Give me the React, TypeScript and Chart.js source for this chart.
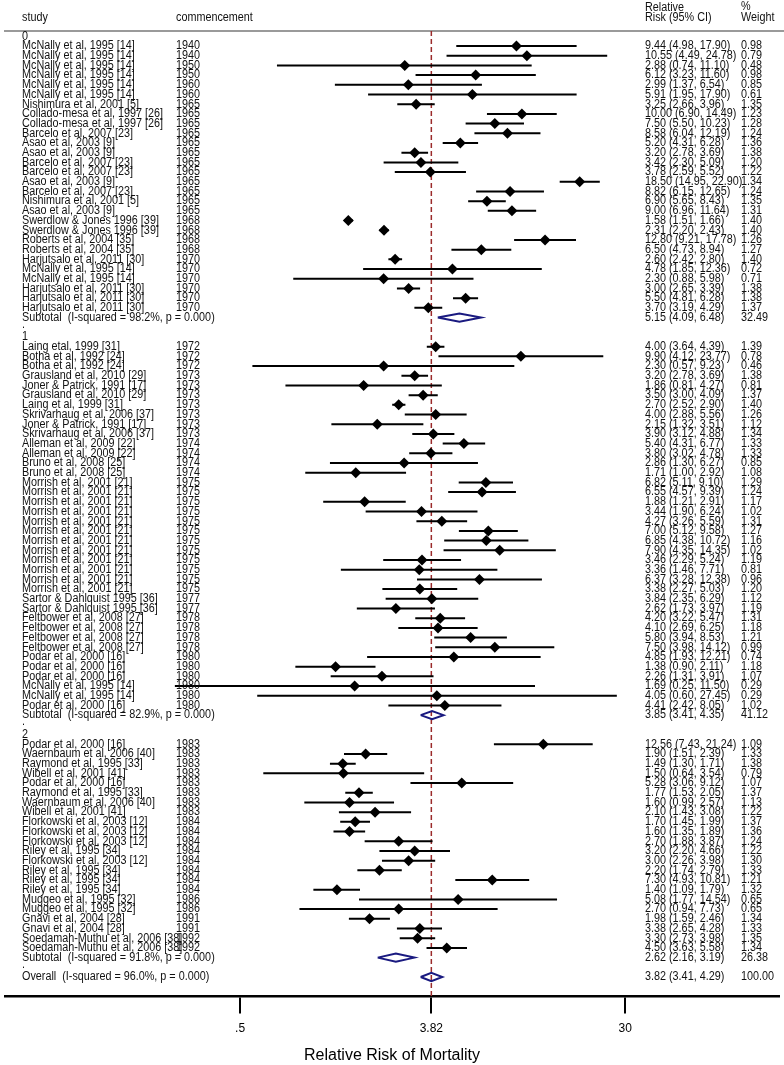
import React, { useEffect, useRef } from 'react';
import { Chart, registerables } from 'chart.js';
Chart.register(...registerables);

const FONT = '"Liberation Sans", Arial, sans-serif';

const groupLabels = ['0', '1', '2'];
const groupSizes = [28, 38, 22];

const studies = [
  'McNally et al, 1995 [14]', 'McNally et al, 1995 [14]', 'McNally et al, 1995 [14]', 'McNally et al, 1995 [14]',
  'McNally et al, 1995 [14]', 'McNally et al, 1995 [14]', 'Nishimura et al, 2001 [5]', 'Collado-mesa et al, 1997 [26]',
  'Collado-mesa et al, 1997 [26]', 'Barcelo et al, 2007 [23]', 'Asao et al, 2003 [9]', 'Asao et al, 2003 [9]',
  'Barcelo et al, 2007 [23]', 'Barcelo et al, 2007 [23]', 'Asao et al, 2003 [9]', 'Barcelo et al, 2007 [23]',
  'Nishimura et al, 2001 [5]', 'Asao et al, 2003 [9]', 'Swerdlow & Jones 1996 [39]', 'Swerdlow & Jones 1996 [39]',
  'Roberts et al, 2004 [35]', 'Roberts et al, 2004 [35]', 'Harjutsalo et al, 2011 [30]', 'McNally et al, 1995 [14]',
  'McNally et al, 1995 [14]', 'Harjutsalo et al, 2011 [30]', 'Harjutsalo et al, 2011 [30]', 'Harjutsalo et al, 2011 [30]',
  'Laing etal, 1999 [31]', 'Botha et al, 1992 [24]', 'Botha et al, 1992 [24]', 'Grausland et al, 2010 [29]',
  'Joner & Patrick, 1991 [17]', 'Grausland et al, 2010 [29]', 'Laing et al, 1999 [31]', 'Skrivarhaug et al, 2006 [37]',
  'Joner & Patrick, 1991 [17]', 'Skrivarhaug et al, 2006 [37]', 'Alleman et al, 2009 [22]', 'Alleman et al, 2009 [22]',
  'Bruno et al, 2008 [25]', 'Bruno et al, 2008 [25]', 'Morrish et al, 2001 [21]', 'Morrish et al, 2001 [21]',
  'Morrish et al, 2001 [21]', 'Morrish et al, 2001 [21]', 'Morrish et al, 2001 [21]', 'Morrish et al, 2001 [21]',
  'Morrish et al, 2001 [21]', 'Morrish et al, 2001 [21]', 'Morrish et al, 2001 [21]', 'Morrish et al, 2001 [21]',
  'Morrish et al, 2001 [21]', 'Morrish et al, 2001 [21]', 'Sartor & Dahlquist 1995 [36]', 'Sartor & Dahlquist 1995 [36]',
  'Feltbower et al, 2008 [27]', 'Feltbower et al, 2008 [27]', 'Feltbower et al, 2008 [27]', 'Feltbower et al, 2008 [27]',
  'Podar et al, 2000 [16]', 'Podar et al, 2000 [16]', 'Podar et al, 2000 [16]', 'McNally et al, 1995 [14]',
  'McNally et al, 1995 [14]', 'Podar et al, 2000 [16]',
  'Podar et al, 2000 [16]', 'Waernbaum et al, 2006 [40]', 'Raymond et al, 1995 [33]', 'Wibell et al, 2001 [41]',
  'Podar et al, 2000 [16]', 'Raymond et al, 1995 [33]', 'Waernbaum et al, 2006 [40]', 'Wibell et al, 2001 [41]',
  'Florkowski et al, 2003 [12]', 'Florkowski et al, 2003 [12]', 'Florkowski et al, 2003 [12]', 'Riley et al, 1995 [34]',
  'Florkowski et al, 2003 [12]', 'Riley et al, 1995 [34]', 'Riley et al, 1995 [34]', 'Riley et al, 1995 [34]',
  'Muggeo et al, 1995 [32]', 'Muggeo et al, 1995 [32]', 'Gnavi et al, 2004 [28]', 'Gnavi et al, 2004 [28]',
  'Soedamah-Muthu et al, 2006 [38]', 'Soedamah-Muthu et al, 2006 [38]',
];

const commencement = [
  1940, 1940, 1950, 1950, 1960, 1960, 1965, 1965, 1965, 1965, 1965, 1965, 1965, 1965, 1965, 1965, 1965, 1965,
  1968, 1968, 1968, 1968, 1970, 1970, 1970, 1970, 1970, 1970,
  1972, 1972, 1972, 1973, 1973, 1973, 1973, 1973, 1973, 1973, 1974, 1974, 1974, 1974,
  1975, 1975, 1975, 1975, 1975, 1975, 1975, 1975, 1975, 1975, 1975, 1975,
  1977, 1977, 1978, 1978, 1978, 1978, 1980, 1980, 1980, 1980, 1980, 1980,
  1983, 1983, 1983, 1983, 1983, 1983, 1983, 1983, 1984, 1984, 1984, 1984, 1984, 1984, 1984, 1984,
  1986, 1986, 1991, 1991, 1992, 1992,
];

const rr = [
  9.44, 10.55, 2.88, 6.12, 2.99, 5.91, 3.25, 10.0, 7.5, 8.58, 5.2, 3.2, 3.42, 3.78, 18.5, 8.82, 6.9, 9.0, 1.58, 2.31,
  12.8, 6.5, 2.6, 4.78, 2.3, 3.0, 5.5, 3.7,
  4.0, 9.9, 2.3, 3.2, 1.86, 3.5, 2.7, 4.0, 2.15, 3.9, 5.4, 3.8, 2.86, 1.71, 6.82, 6.55, 1.88, 3.44, 4.27, 7.0, 6.85,
  7.9, 3.46, 3.36, 6.37, 3.38, 3.84, 2.62, 4.2, 4.1, 5.8, 7.5, 4.85, 1.38, 2.26, 1.69, 4.05, 4.41,
  12.56, 1.9, 1.49, 1.5, 5.28, 1.77, 1.6, 2.1, 1.7, 1.6, 2.7, 3.2, 3.0, 2.2, 7.3, 1.4, 5.08, 2.7, 1.98, 3.38, 3.3, 4.5,
];

const lower = [
  4.98, 4.49, 0.74, 3.23, 1.37, 1.95, 2.66, 6.9, 5.5, 6.04, 4.31, 2.78, 2.3, 2.59, 14.95, 6.15, 5.65, 6.96, 1.51, 2.2,
  9.21, 4.73, 2.42, 1.85, 0.88, 2.65, 4.81, 3.19,
  3.64, 4.12, 0.57, 2.78, 0.81, 3.0, 2.52, 2.88, 1.32, 3.12, 4.31, 3.02, 1.3, 1.0, 5.11, 4.57, 1.21, 1.9, 3.26, 5.12,
  4.38, 4.35, 2.29, 1.46, 3.28, 2.27, 2.35, 1.73, 3.22, 2.69, 3.94, 3.98, 1.93, 0.9, 1.31, 0.25, 0.6, 2.42,
  7.43, 1.51, 1.3, 0.64, 3.06, 1.53, 0.99, 1.43, 1.45, 1.35, 1.88, 2.2, 2.26, 1.74, 4.93, 1.09, 1.77, 0.94, 1.59, 2.65,
  2.73, 3.63,
];

const upper = [
  17.9, 24.78, 11.1, 11.6, 6.54, 17.9, 3.96, 14.49, 10.23, 12.19, 6.28, 3.69, 5.09, 5.52, 22.9, 12.65, 8.43, 11.64,
  1.66, 2.43, 17.78, 8.94, 2.8, 12.36, 5.98, 3.39, 6.28, 4.29,
  4.39, 23.77, 9.23, 3.69, 4.27, 4.09, 2.9, 5.56, 3.51, 4.88, 6.77, 4.78, 6.27, 2.92, 9.1, 9.39, 2.91, 6.24, 5.59,
  9.58, 10.72, 14.35, 5.24, 7.71, 12.38, 5.03, 6.29, 3.97, 5.47, 6.25, 8.53, 14.12, 12.21, 2.11, 3.91, 11.5, 27.45, 8.05,
  21.24, 2.39, 1.71, 3.54, 9.12, 2.05, 2.57, 3.08, 1.99, 1.89, 3.87, 4.66, 3.98, 2.79, 10.81, 1.79, 14.54, 7.73, 2.46,
  4.28, 3.98, 5.58,
];

const weight = [
  0.98, 0.79, 0.48, 0.98, 0.85, 0.61, 1.35, 1.23, 1.28, 1.24, 1.36, 1.38, 1.2, 1.22, 1.34, 1.24, 1.35, 1.31, 1.4, 1.4,
  1.26, 1.27, 1.4, 0.72, 0.71, 1.38, 1.38, 1.37,
  1.39, 0.78, 0.46, 1.38, 0.81, 1.37, 1.4, 1.26, 1.12, 1.34, 1.33, 1.33, 0.85, 1.08, 1.29, 1.24, 1.17, 1.02, 1.31,
  1.27, 1.16, 1.02, 1.19, 0.81, 0.96, 1.2, 1.12, 1.19, 1.31, 1.18, 1.21, 0.99, 0.74, 1.18, 1.07, 0.29, 0.29, 1.02,
  1.09, 1.33, 1.38, 0.79, 1.07, 1.37, 1.13, 1.22, 1.37, 1.36, 1.24, 1.22, 1.3, 1.33, 1.21, 1.32, 0.65, 0.65, 1.34,
  1.33, 1.35, 1.34,
];

const subtotalRR = [5.15, 3.85, 2.62];
const subtotalLower = [4.09, 3.41, 2.16];
const subtotalUpper = [6.48, 4.35, 3.19];
const subtotalWeight = [32.49, 41.12, 26.38];
const subtotalI2 = ['98.2%', '82.9%', '91.8%'];
const subtotalP = ['0.000', '0.000', '0.000'];

const overallRR = 3.82;
const overallLower = 3.41;
const overallUpper = 4.29;
const overallWeight = 100.0;
const overallI2 = '96.0%';
const overallP = '0.000';

const tickValues = [0.5, 3.82, 30];
const tickLabels = ['.5', '3.82', '30'];

type Row = { kind: 'group' | 'study' | 'subtotal' | 'dot' | 'overall'; r: number; i?: number; g?: number };

function buildRows(): Row[] {
  const rows: Row[] = [];
  let r = 0;
  let k = 0;
  groupSizes.forEach((n, g) => {
    rows.push({ kind: 'group', r: r++, g });
    for (let j = 0; j < n; j++) rows.push({ kind: 'study', r: r++, i: k++ });
    rows.push({ kind: 'subtotal', r: r++, g });
    rows.push({ kind: 'dot', r: r++ });
  });
  rows.push({ kind: 'overall', r: r++ });
  return rows;
}

const fmt = (v: number) => v.toFixed(2);
const ciText = (e: number, l: number, u: number) => `${fmt(e)} (${fmt(l)}, ${fmt(u)})`;

function drawText(ctx: CanvasRenderingContext2D, s: string, x: number, y: number, sx = 0.9) {
  ctx.save();
  ctx.translate(x, y);
  ctx.scale(sx, 1);
  ctx.fillText(s, 0, 0);
  ctx.restore();
}

export default function App() {
  const ref = useRef<HTMLCanvasElement>(null);

  useEffect(() => {
    const canvas = ref.current;
    if (!canvas) return;
    const rows = buildRows();
    const H = 0.42;

    const points: any[] = [];
    const ciLines: any[] = [];
    const diamonds: any[] = [];
    rows.forEach((row) => {
      if (row.kind === 'study') {
        const i = row.i as number;
        points.push({ x: rr[i], y: row.r });
        ciLines.push({ x: lower[i], y: row.r }, { x: upper[i], y: row.r }, { x: null, y: null });
      } else if (row.kind === 'subtotal' || row.kind === 'overall') {
        const g = row.g as number;
        const e = row.kind === 'overall' ? overallRR : subtotalRR[g];
        const l = row.kind === 'overall' ? overallLower : subtotalLower[g];
        const u = row.kind === 'overall' ? overallUpper : subtotalUpper[g];
        diamonds.push(
          { x: l, y: row.r }, { x: e, y: row.r - H }, { x: u, y: row.r }, { x: e, y: row.r + H }, { x: l, y: row.r },
          { x: null, y: null }
        );
      }
    });

    const yMin = -0.547;
    const yMax = 99.0;

    const textPlugin = {
      id: 'forestText',
      beforeDatasetsDraw(chart: any) {
        const ctx = chart.ctx as CanvasRenderingContext2D;
        const top = chart.chartArea.top;
        ctx.save();
        ctx.strokeStyle = '#9a9a9a';
        ctx.lineWidth = 2;
        ctx.beginPath();
        ctx.moveTo(4, top);
        ctx.lineTo(784, top);
        ctx.stroke();
        ctx.restore();
      },
      afterDraw(chart: any) {
        const ctx = chart.ctx as CanvasRenderingContext2D;
        const ys = chart.scales.y;
        ctx.save();
        ctx.fillStyle = '#111';
        ctx.textBaseline = 'middle';
        ctx.textAlign = 'left';
        ctx.font = `12px ${FONT}`;
        drawText(ctx, 'study', 22, 18);
        drawText(ctx, 'commencement', 176, 18);
        drawText(ctx, 'Relative', 645, 8);
        drawText(ctx, 'Risk (95% CI)', 645, 18);
        drawText(ctx, '%', 741, 7);
        drawText(ctx, 'Weight', 741, 18);
        rows.forEach((row) => {
          const y = ys.getPixelForValue(row.r);
          if (row.kind === 'group') {
            drawText(ctx, groupLabels[row.g as number], 22, y);
          } else if (row.kind === 'dot') {
            drawText(ctx, '.', 22, y - 3);
          } else if (row.kind === 'study') {
            const i = row.i as number;
            drawText(ctx, studies[i], 22, y);
            drawText(ctx, String(commencement[i]), 176, y);
            drawText(ctx, ciText(rr[i], lower[i], upper[i]), 645, y);
            drawText(ctx, fmt(weight[i]), 741, y);
          } else if (row.kind === 'subtotal') {
            const g = row.g as number;
            drawText(ctx, `Subtotal  (I-squared = ${subtotalI2[g]}, p = ${subtotalP[g]})`, 22, y);
            drawText(ctx, ciText(subtotalRR[g], subtotalLower[g], subtotalUpper[g]), 645, y);
            drawText(ctx, fmt(subtotalWeight[g]), 741, y);
          } else if (row.kind === 'overall') {
            drawText(ctx, `Overall  (I-squared = ${overallI2}, p = ${overallP})`, 22, y);
            drawText(ctx, ciText(overallRR, overallLower, overallUpper), 645, y);
            drawText(ctx, fmt(overallWeight), 741, y);
          }
        });
        ctx.restore();
      },
    };

    const chart = new Chart(canvas, {
      type: 'scatter',
      data: {
        datasets: [
          {
            label: 'estimates',
            data: points,
            pointStyle: 'rectRot',
            pointRadius: 5.5,
            backgroundColor: '#000',
            borderColor: '#000',
            borderWidth: 0,
            showLine: false,
            order: 0,
          } as any,
          {
            label: 'pooled',
            data: diamonds,
            showLine: true,
            borderColor: '#1a1a80',
            borderWidth: 2,
            pointRadius: 0,
            fill: false,
            tension: 0,
            borderJoinStyle: 'miter',
            order: 1,
          },
          {
            label: 'ci',
            data: ciLines,
            showLine: true,
            borderColor: '#000',
            borderWidth: 2,
            pointRadius: 0,
            fill: false,
            tension: 0,
            order: 2,
          },
          {
            label: 'overall line',
            data: [
              { x: overallRR, y: yMin },
              { x: overallRR, y: yMax },
            ],
            showLine: true,
            borderColor: '#9b2b2b',
            borderWidth: 1.5,
            borderDash: [5, 3],
            pointRadius: 0,
            fill: false,
            order: 3,
          },
        ],
      },
      options: {
        animation: false,
        responsive: false,
        devicePixelRatio: 1,
        events: [],
        layout: { padding: { left: 5, right: 4, top: 31, bottom: 0 } },
        plugins: { legend: { display: false }, tooltip: { enabled: false } },
        scales: {
          x: {
            type: 'logarithmic',
            min: 0.0413,
            max: 153.1,
            bounds: 'data',
            afterBuildTicks: (scale: any) => {
              scale.ticks = tickValues.map((v) => ({ value: v }));
            },
            ticks: {
              autoSkip: false,
              maxRotation: 0,
              padding: 8,
              color: '#000',
              font: { size: 12, family: FONT },
              callback: (v: any) => {
                const idx = tickValues.findIndex((t) => Math.abs(t - Number(v)) < 1e-6);
                return idx >= 0 ? tickLabels[idx] : '';
              },
            },
            grid: {
              display: true,
              drawOnChartArea: false,
              drawTicks: true,
              tickLength: 17,
              color: '#000',
              lineWidth: 2,
            },
            border: { display: true, color: '#000', width: 2.5 },
            title: {
              display: true,
              text: 'Relative Risk of Mortality',
              color: '#000',
              font: { size: 16, family: FONT },
              padding: { top: 2, bottom: 0 },
            },
          },
          y: {
            type: 'linear',
            display: false,
            min: yMin,
            max: yMax,
            reverse: true,
          },
        },
      } as any,
      plugins: [textPlugin],
    });
    return () => chart.destroy();
  }, []);

  return (
    <div style={{ position: 'absolute', left: 0, top: 0, width: 784, height: 1065, background: '#fff' }}>
      <canvas ref={ref} width={784} height={1065} style={{ display: 'block', width: 784, height: 1065 }} />
    </div>
  );
}
